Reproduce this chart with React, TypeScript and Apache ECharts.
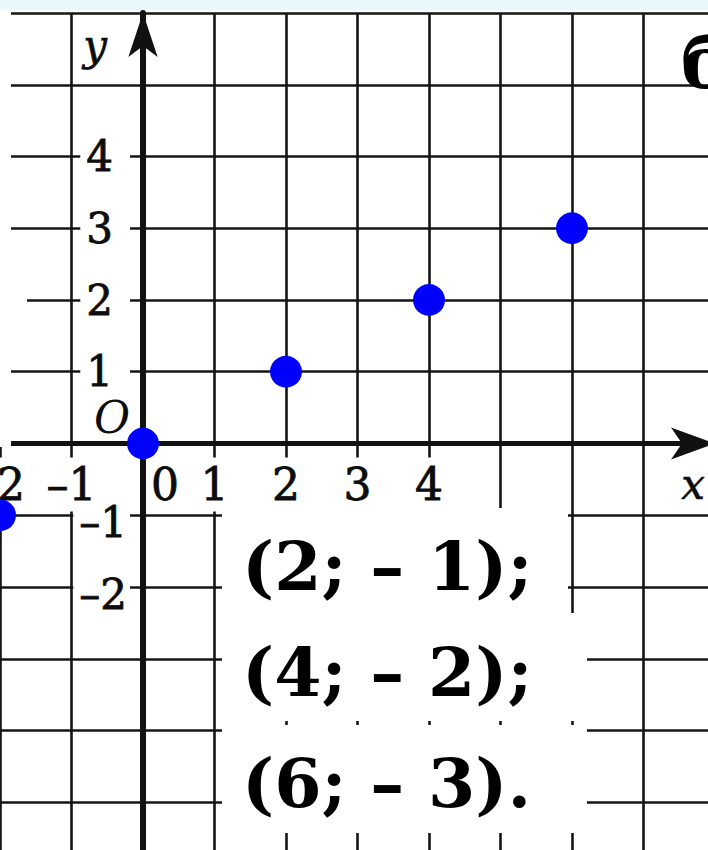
import React, { useEffect, useRef } from 'react';
import * as echarts from 'echarts';

const points: [number, number][] = [[-2, -1], [0, 0], [2, 1], [4, 2], [6, 3]];
const xTickValues = [-2, -1, 0, 1, 2, 3, 4];
const xTickLabels = ['–2', '–1', '0', '1', '2', '3', '4'];
const yTickValues = [4, 3, 2, 1, -1, -2];
const yTickLabels = ['4', '3', '2', '1', '–1', '–2'];
const answerLines = ['(2; – 1);', '(4; – 2);', '(6; – 3).'];
const axisNameX = 'x';
const axisNameY = 'y';
const originName = 'O';
const cornerMark = 'б';

const CHART_W = 715;
const CHART_H = 874;
const GRID_TOP = 13;

export default function App() {
  const ref = useRef<HTMLDivElement>(null);
  useEffect(() => {
    const chart = echarts.init(ref.current!, null, { renderer: 'svg' });
    const serif = "'DejaVu Serif', serif";
    const ink = '#0d0d0d';
    const answerY = [566, 672, 783];
    const labelBase = {
      fontFamily: serif,
      color: ink,
      textBorderColor: ink,
      textBorderWidth: 0.8,
    };
    const option: any = {
      animation: false,
      backgroundColor: '#ffffff',
      grid: { left: 0, right: 0, top: GRID_TOP, bottom: 0, containLabel: false, outerBoundsMode: 'none' },
      xAxis: {
        type: 'value',
        min: -2,
        max: 8,
        interval: 1,
        position: 'bottom',
        offset: 0,
        axisLine: {
          show: true,
          onZero: false,
          symbol: ['none', 'arrow'],
          symbolSize: [24, 44],
          lineStyle: { color: '#111', width: 5 },
        },
        axisTick: { show: false },
        splitLine: { show: true, lineStyle: { color: '#151515', width: 2.6 } },
        axisLabel: {
          show: true,
          showMinLabel: true,
          showMaxLabel: true,
          hideOverlap: false,
          margin: 14,
          formatter: (v: number) => {
            const i = xTickValues.indexOf(Math.round(v));
            if (i < 0 || Math.abs(v - Math.round(v)) > 1e-6) return '';
            return v === 0 ? `{z|${xTickLabels[i]}}` : `{a|${xTickLabels[i]}}`;
          },
          rich: {
            a: { ...labelBase, fontSize: 44, backgroundColor: '#fff', padding: [5, 4, 5, 4] },
            z: { ...labelBase, fontSize: 44, padding: [5, 0, 5, 44] },
          },
        },
      },
      yAxis: {
        type: 'value',
        min: -6,
        max: 6,
        interval: 1,
        position: 'left',
        offset: 0,
        axisLine: {
          show: true,
          onZero: false,
          symbol: ['none', 'arrow'],
          symbolSize: [22, 44],
          lineStyle: { color: '#111', width: 6 },
        },
        axisTick: { show: false },
        splitLine: { show: true, lineStyle: { color: '#151515', width: 2.6 } },
        axisLabel: {
          show: true,
          showMinLabel: true,
          showMaxLabel: true,
          hideOverlap: false,
          margin: 13,
          formatter: (v: number) => {
            const i = yTickValues.indexOf(Math.round(v));
            if (i < 0 || Math.abs(v - Math.round(v)) > 1e-6) return '';
            return v > 0 ? `{p|${yTickLabels[i]}}` : `{n|${yTickLabels[i]}}`;
          },
          rich: {
            p: { ...labelBase, fontSize: 42, backgroundColor: '#fff', padding: [2, 17, 2, 6] },
            n: { ...labelBase, fontSize: 42, backgroundColor: '#fff', padding: [14, 3, 0, 6] },
          },
        },
      },
      series: [
        {
          type: 'scatter',
          data: points,
          symbolSize: 32,
          clip: false,
          itemStyle: { color: '#0000ff', opacity: 1 },
          z: 5,
        },
      ],
      graphic: [
        { type: 'rect', z: 100, shape: { x: 0, y: 0, width: CHART_W, height: 10 }, style: { fill: '#e8f8fb' } },
        { type: 'rect', z: 100, shape: { x: 0, y: 10, width: 11, height: 437 }, style: { fill: '#ffffff' } },
        { type: 'rect', z: 100, shape: { x: 11, y: 295, width: 16, height: 12 }, style: { fill: '#ffffff' } },
        { type: 'rect', z: 100, shape: { x: 222, y: 508, width: 346, height: 105 }, style: { fill: '#ffffff' } },
        { type: 'rect', z: 100, shape: { x: 222, y: 613, width: 365, height: 108 }, style: { fill: '#ffffff' } },
        { type: 'rect', z: 100, shape: { x: 222, y: 725, width: 365, height: 108 }, style: { fill: '#ffffff' } },
        ...answerLines.map((t, i) => ({
          type: 'text',
          z: 101,
          x: 242,
          y: answerY[i],
          style: {
            text: t,
            fontFamily: serif,
            fontWeight: 'bold',
            fontSize: 68,
            fill: '#000',
            align: 'left',
            verticalAlign: 'middle',
          },
        })),
        {
          type: 'text', z: 101, x: 681, y: 62,
          style: { text: cornerMark, fontFamily: serif, fontWeight: 'bold', fontSize: 72, fill: '#000', align: 'left', verticalAlign: 'middle' },
        },
        {
          type: 'text', z: 101, x: 95, y: 45,
          style: { text: axisNameY, fontFamily: serif, fontStyle: 'italic', fontSize: 42, fill: ink, stroke: ink, lineWidth: 0.6, align: 'center', verticalAlign: 'middle' },
        },
        {
          type: 'text', z: 101, x: 693, y: 484,
          style: { text: axisNameX, fontFamily: serif, fontStyle: 'italic', fontSize: 42, fill: ink, stroke: ink, lineWidth: 0.6, align: 'center', verticalAlign: 'middle' },
        },
        {
          type: 'text', z: 101, x: 112, y: 417,
          style: { text: originName, fontFamily: serif, fontStyle: 'italic', fontSize: 44, fill: ink, align: 'center', verticalAlign: 'middle' },
        },
      ],
    };
    chart.setOption(option);
    // Move both axes (line + labels) onto the zero of the other axis.
    const zero = chart.convertToPixel({ gridIndex: 0 }, [0, 0]) as number[];
    const gridRect = (chart as any).getModel().getComponent('grid', 0).coordinateSystem.getRect();
    const xOffset = -(gridRect.y + gridRect.height - zero[1]);
    const yOffset = -(zero[0] - gridRect.x);
    chart.setOption({ xAxis: { offset: xOffset }, yAxis: { offset: yOffset } });
    return () => chart.dispose();
  }, []);
  return (
    <div style={{ position: 'fixed', left: 0, top: 0, width: 708, height: 850, overflow: 'hidden', background: '#fff' }}>
      <div ref={ref} style={{ width: CHART_W, height: CHART_H }} />
    </div>
  );
}
